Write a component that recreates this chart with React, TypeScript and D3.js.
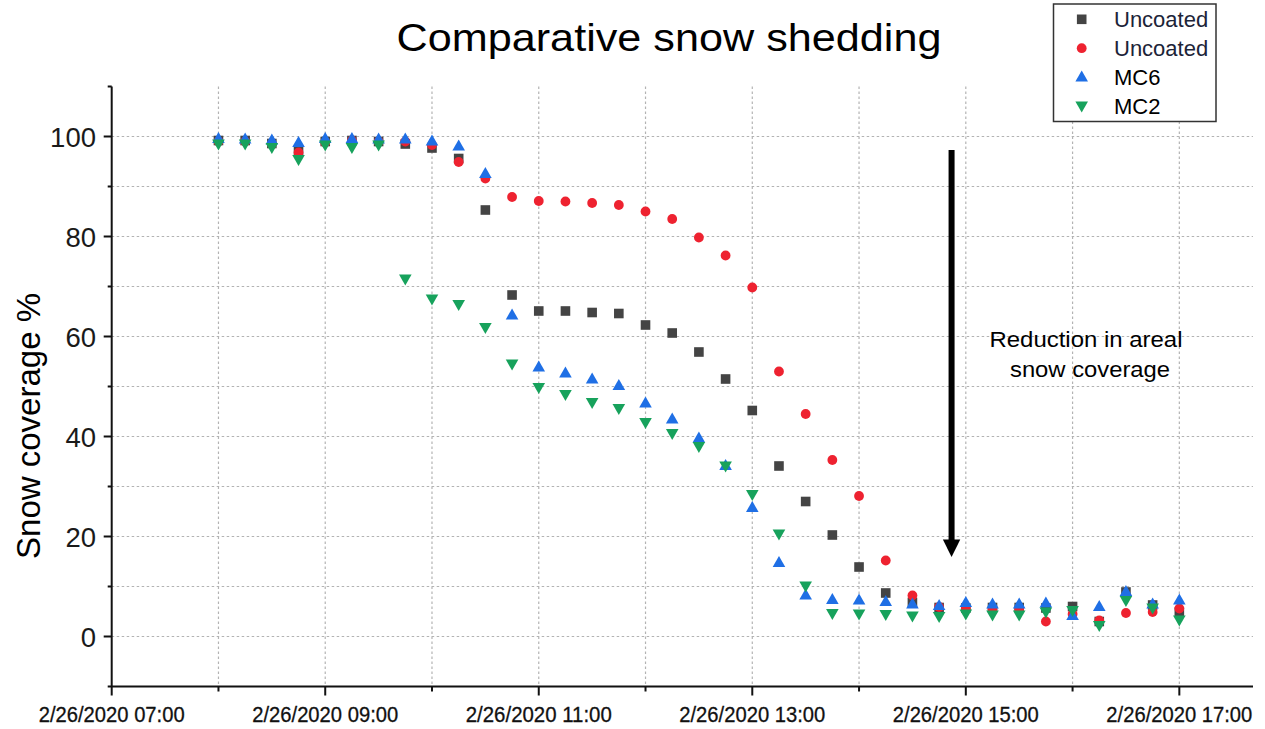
import React from 'react';
import * as d3 from 'd3';

// sampling times, every 15 minutes on 2/26/2020
const day = '2/26/2020';
const times = [
  '08:00', '08:15', '08:30', '08:45', '09:00', '09:15', '09:30', '09:45',
  '10:00', '10:15', '10:30', '10:45', '11:00', '11:15', '11:30', '11:45',
  '12:00', '12:15', '12:30', '12:45', '13:00', '13:15', '13:30', '13:45',
  '14:00', '14:15', '14:30', '14:45', '15:00', '15:15', '15:30', '15:45',
  '16:00', '16:15', '16:30', '16:45', '17:00'
];

const uncoatedGray = [
  99.2, 99.2, 98.6, 97.2, 99.0, 99.2, 99.0, 98.5,
  97.7, 95.6, 85.3, 68.3, 65.1, 65.1, 64.8, 64.6,
  62.3, 60.7, 56.9, 51.5, 45.2, 34.1, 27.0, 20.3,
  13.9, 8.7, 6.8, 5.8, 5.7, 5.8, 5.8, 5.7,
  6.0, 3.0, 8.9, 6.3, 4.9
];
const uncoatedRed = [
  99.0, 99.0, 98.5, 96.8, 98.8, 99.2, 99.0, 99.0,
  98.3, 94.9, 91.6, 87.9, 87.1, 87.0, 86.7, 86.3,
  85.0, 83.5, 79.8, 76.2, 69.8, 53.0, 44.5, 35.3,
  28.1, 15.2, 8.2, 5.9, 5.6, 5.5, 5.5, 3.0,
  4.5, 3.2, 4.7, 4.9, 5.6
];
const mc6 = [
  99.6, 99.5, 99.3, 98.8, 99.6, 99.6, 99.5, 99.5,
  99.1, 98.1, 92.6, 64.3, 53.9, 52.7, 51.5, 50.2,
  46.7, 43.5, 39.7, 34.2, 25.8, 14.8, 8.3, 7.4,
  7.3, 7.0, 6.5, 6.2, 6.8, 6.5, 6.5, 6.7,
  4.2, 6.0, 9.0, 6.5, 7.3
];
const mc2 = [
  98.5, 98.5, 97.8, 95.4, 98.3, 97.8, 98.3, 71.5,
  67.5, 66.4, 61.8, 54.5, 49.8, 48.4, 46.8, 45.6,
  42.8, 40.6, 38.0, 34.1, 28.4, 20.5, 10.1, 4.6,
  4.5, 4.4, 4.1, 4.0, 4.5, 4.3, 4.3, 4.9,
  5.2, 2.2, 7.2, 5.7, 3.3
];

const legendLabels = ['Uncoated', 'Uncoated', 'MC6', 'MC2'];
const xMajorTicks = ['07:00', '09:00', '11:00', '13:00', '15:00', '17:00'];
const xMinorTicks = ['08:00', '10:00', '12:00', '14:00', '16:00'];
const xGridTicks = ['08:00', '09:00', '10:00', '11:00', '12:00', '13:00', '14:00', '15:00', '16:00', '17:00'];
const yMajorTicks = [0, 20, 40, 60, 80, 100];
const yMinorTicks = [10, 30, 50, 70, 90];
const yGridTicks = [0, 10, 20, 30, 40, 50, 60, 70, 80, 90, 100];

const COLORS = ['#444444', '#ee2230', '#1f6fe5', '#17a25c'];
const FONT = '"Liberation Sans", Arial, Helvetica, sans-serif';

const parseTime = d3.timeParse('%m/%d/%Y %H:%M:%S');
const toDate = (t: string) => parseTime(`${day} ${t}:00`) as Date;

const Marker = ({ kind, x, y }: { kind: number; x: number; y: number }) => {
  if (kind === 0) return <rect x={x - 4.8} y={y - 4.8} width={9.6} height={9.6} fill={COLORS[0]} />;
  if (kind === 1) return <circle cx={x} cy={y} r={4.9} fill={COLORS[1]} />;
  if (kind === 2)
    return <path d={`M${x},${y - 6.5}L${x + 6.3},${y + 4.5}L${x - 6.3},${y + 4.5}Z`} fill={COLORS[2]} />;
  return <path d={`M${x},${y + 6.5}L${x + 6.3},${y - 4.5}L${x - 6.3},${y - 4.5}Z`} fill={COLORS[3]} />;
};

export default function App() {
  const width = 1265;
  const height = 729;

  const x = d3.scaleTime()
    .domain([toDate('07:00'), parseTime(`${day} 17:41:24`) as Date])
    .range([111.7, 1253]);
  const y = d3.scaleLinear().domain([-10, 110]).range([686.5, 86.5]);

  const series = [uncoatedGray, uncoatedRed, mc6, mc2];
  const fmt = d3.timeFormat('%-m/%d/%Y %H:%M');

  const x0 = x.range()[0];
  const x1 = x.range()[1];
  const yBottom = y(-10);
  const yTop = y(110);

  // annotation arrow, in data units
  const arrowX = x(toDate('14:52'));
  const arrowTop = y(97.3);
  const arrowTip = y(15.9);

  return (
    <svg
      width={width}
      height={height}
      style={{ position: 'absolute', left: 0, top: 0, background: '#fff', fontFamily: FONT }}
    >
      <rect width={width} height={height} fill="#fff" />

      {/* title */}
      <text x={669} y={51} textAnchor="middle" fontSize={39} textLength={545} lengthAdjust="spacingAndGlyphs" fill="#000">
        Comparative snow shedding
      </text>

      {/* grid */}
      {yGridTicks.map(t => (
        <line key={`gy-${t}`} x1={x0} x2={x1} y1={y(t)} y2={y(t)} stroke="#b3b3b3" strokeWidth={1.2} strokeDasharray="2.5,2.5" />
      ))}
      {xGridTicks.map(t => (
        <line key={`gx-${t}`} x1={x(toDate(t))} x2={x(toDate(t))} y1={yTop} y2={yBottom} stroke="#b3b3b3" strokeWidth={1.2} strokeDasharray="2.5,2.5" />
      ))}

      {/* axes */}
      <line x1={x0 - 4} x2={x1} y1={yBottom} y2={yBottom} stroke="#111" strokeWidth={2} />
      <line x1={x0} x2={x0} y1={yTop} y2={yBottom} stroke="#111" strokeWidth={2} />
      <line x1={x0 - 4} x2={x0} y1={yTop} y2={yTop} stroke="#111" strokeWidth={2} />

      {xMajorTicks.map(t => {
        const d = toDate(t);
        return (
          <g key={`xt-${t}`}>
            <line x1={x(d)} x2={x(d)} y1={yBottom} y2={yBottom + 9} stroke="#111" strokeWidth={2} />
            <text
              x={x(d)}
              y={722}
              textAnchor="middle"
              fontSize={22}
              fontFamily='"Liberation Sans Narrow", "Arial Narrow", sans-serif'
              textLength={146}
              lengthAdjust="spacingAndGlyphs"
              fill="#111"
              stroke="#111"
              strokeWidth={0.3}
            >
              {fmt(d)}
            </text>
          </g>
        );
      })}
      {xMinorTicks.map(t => (
        <line key={`xm-${t}`} x1={x(toDate(t))} x2={x(toDate(t))} y1={yBottom} y2={yBottom + 5} stroke="#111" strokeWidth={2} />
      ))}

      {yMajorTicks.map(t => (
        <g key={`yt-${t}`}>
          <line x1={x0 - 8} x2={x0} y1={y(t)} y2={y(t)} stroke="#111" strokeWidth={2} />
          <text x={96} y={y(t) + 10} textAnchor="end" fontSize={27.5} fill="#1a1a1a">
            {t}
          </text>
        </g>
      ))}
      {yMinorTicks.map(t => (
        <line key={`ym-${t}`} x1={x0 - 4} x2={x0} y1={y(t)} y2={y(t)} stroke="#111" strokeWidth={2} />
      ))}

      <text transform={`translate(40, 426) rotate(-90)`} textAnchor="middle" fontSize={33} fill="#000">
        Snow coverage %
      </text>

      {/* data */}
      {series.map((vals, si) => (
        <g key={`s-${si}`}>
          {vals.map((v, i) => (
            <Marker key={i} kind={si} x={x(toDate(times[i]))} y={y(v)} />
          ))}
        </g>
      ))}

      {/* annotation */}
      <rect x={arrowX - 3} y={arrowTop} width={6} height={arrowTip - 17 - arrowTop} fill="#000" />
      <path d={`M${arrowX - 8.7},${arrowTip - 17.5}L${arrowX + 8.7},${arrowTip - 17.5}L${arrowX},${arrowTip}Z`} fill="#000" />
      <text x={1086} y={347} textAnchor="middle" fontSize={22.5} textLength={193} lengthAdjust="spacingAndGlyphs" fill="#000">
        Reduction in areal
      </text>
      <text x={1090} y={377} textAnchor="middle" fontSize={22.5} textLength={160} lengthAdjust="spacingAndGlyphs" fill="#000">
        snow coverage
      </text>

      {/* legend */}
      <rect x={1053.5} y={4} width={162.5} height={117.5} fill="#fff" stroke="#333" strokeWidth={1.5} />
      {legendLabels.map((l, i) => {
        const ly = 19.3 + i * 28.9;
        return (
          <g key={`lg-${i}`}>
            <Marker kind={i} x={1081.7} y={ly} />
            <text x={1114} y={ly + 8} fontSize={22} fill={i < 2 ? '#1c2438' : '#000'}>
              {l}
            </text>
          </g>
        );
      })}
    </svg>
  );
}
